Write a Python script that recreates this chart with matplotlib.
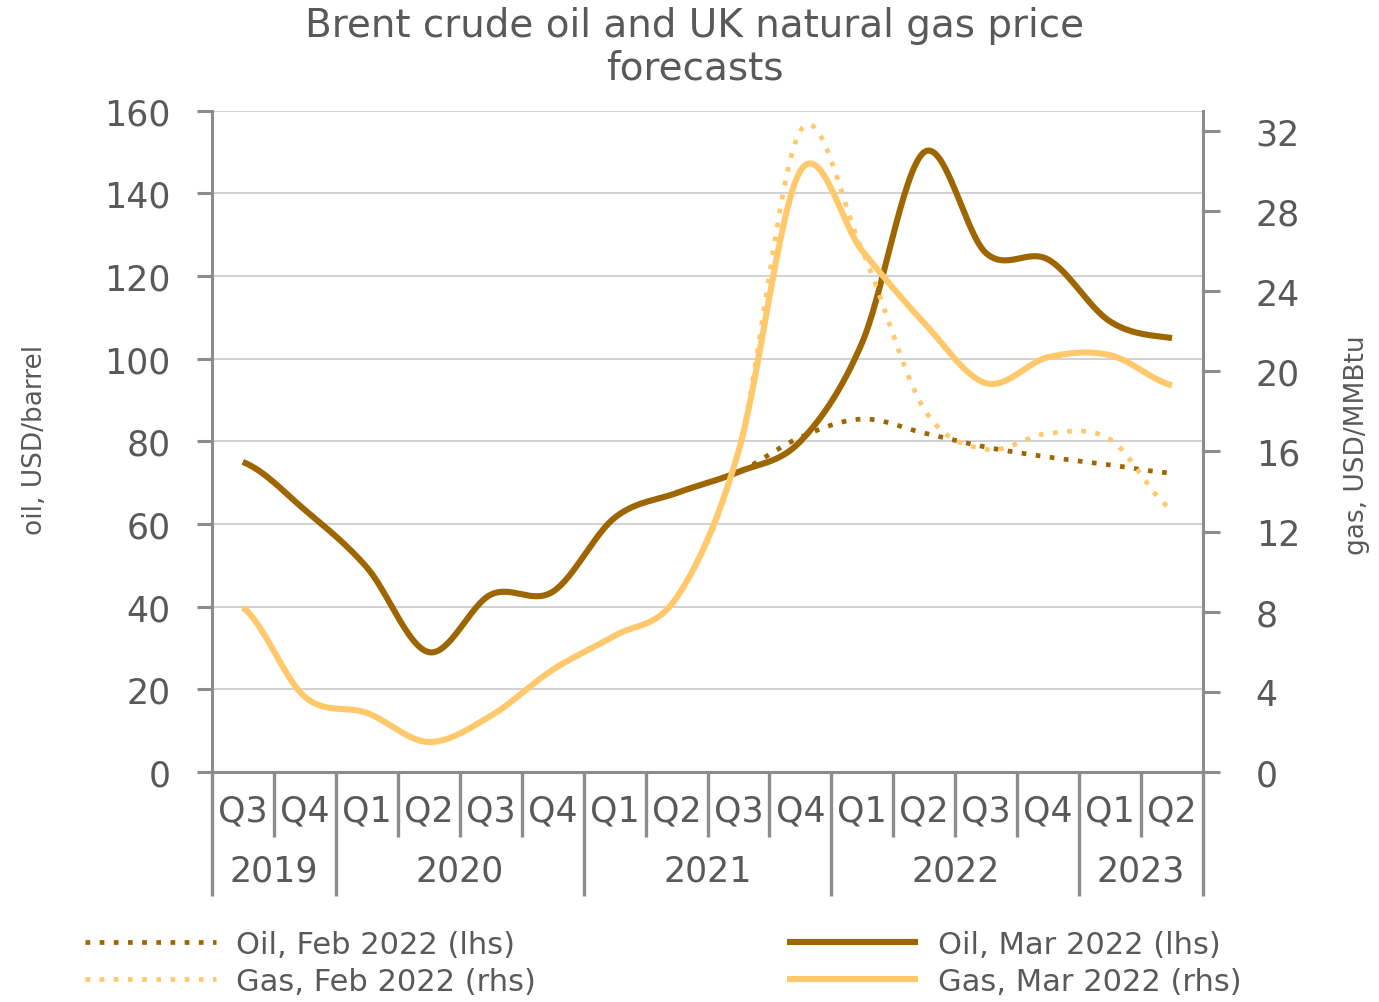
import numpy as np
import matplotlib
matplotlib.use("Agg")
import matplotlib.pyplot as plt
from matplotlib.transforms import blended_transform_factory

# ---------------- data ----------------
quarters = ["Q3", "Q4", "Q1", "Q2", "Q3", "Q4", "Q1", "Q2",
            "Q3", "Q4", "Q1", "Q2", "Q3", "Q4", "Q1", "Q2"]
years = ["2019", "2020", "2021", "2022", "2023"]
year_first_idx = [0, 2, 6, 10, 14]
year_last_idx = [1, 5, 9, 13, 15]

oil_feb = [75, 63.4, 49.5, 29, 42.9, 43.6, 61.5, 67.5, 72.6,
           81, 85.4, 82, 78.6, 76.2, 74.3, 72.3]
oil_mar = [75, 63.4, 49.5, 29, 42.9, 43.6, 61.5, 67.5, 72.6,
           80, 104, 150, 125.5, 124, 109, 105]
gas_feb = [8.2, 3.75, 2.95, 1.5, 2.8, 5.1, 6.8, 8.7, 16.0,
           32.0, 26.0, 18.1, 16.1, 16.9, 16.6, 13.1]
gas_mar = [8.2, 3.75, 2.95, 1.5, 2.8, 5.1, 6.8, 8.7, 16.0,
           30.0, 26.0, 22.4, 19.4, 20.7, 20.8, 19.3]

labels = ["Oil, Feb 2022 (lhs)", "Gas, Feb 2022 (rhs)",
          "Oil, Mar 2022 (lhs)", "Gas, Mar 2022 (rhs)"]

# ---------------- style ----------------
OIL = "#9E6600"
GAS = "#FFC96B"
TXT = "#595959"
AXC = "#8C8C8C"
GRID = "#CACACA"
W, H = 1379, 1003


def smooth(y, steps=30):
    """Catmull-Rom style smoothed path through the points (like Excel smoothed lines)."""
    y = np.asarray(y, float)
    n = len(y)
    m = np.empty(n)
    m[1:-1] = (y[2:] - y[:-2]) / 2.0
    m[0] = (y[1] - y[0]) / 2.0
    m[-1] = (y[-1] - y[-2]) / 2.0
    xs, ys = [], []
    t = np.linspace(0, 1, steps, endpoint=False)
    h00 = 2 * t**3 - 3 * t**2 + 1
    h10 = t**3 - 2 * t**2 + t
    h01 = -2 * t**3 + 3 * t**2
    h11 = t**3 - t**2
    for i in range(n - 1):
        xs.append(i + t)
        ys.append(h00 * y[i] + h10 * m[i] + h01 * y[i + 1] + h11 * m[i + 1])
    xs.append([n - 1])
    ys.append([y[-1]])
    return np.concatenate(xs), np.concatenate(ys)


fig = plt.figure(figsize=(W / 100, H / 100), dpi=100)
left, right, top, bottom = 212, 1203, 111.7, 773
ax = fig.add_axes([left / W, 1 - bottom / H, (right - left) / W, (bottom - top) / H])
ax2 = ax.twinx()

ax.set_xlim(-0.5, len(quarters) - 0.5)
ax.set_ylim(0, 160)
ax2.set_ylim(0, 33)

ax.set_yticks(range(0, 161, 20))
ax2.set_yticks(range(0, 33, 4))
ax.set_xticks([])

ax.yaxis.grid(True, color=GRID, lw=1.2)
ax.set_axisbelow(True)

for s in ["top", "right"]:
    ax.spines[s].set_visible(False)
for s in ["top", "left", "bottom"]:
    ax2.spines[s].set_visible(False)
for sp in [ax.spines["left"], ax.spines["bottom"], ax2.spines["right"]]:
    sp.set_color(AXC)
    sp.set_linewidth(2.2)

ax.tick_params(axis="y", direction="out", length=11, width=2.2, color=AXC,
               pad=19, labelsize=25, labelcolor=TXT)
ax2.tick_params(axis="y", direction="out", length=12, width=2.2, color=AXC,
                pad=26, labelsize=25, labelcolor=TXT)
ax.tick_params(axis="x", length=0)

# lines
dash = (0, (1, 2))
x1, y1 = smooth(oil_feb)
l_oil_feb, = ax.plot(x1, y1, color=OIL, lw=3.4, linestyle=dash, dash_capstyle="butt")
x2, y2 = smooth(oil_mar)
l_oil_mar, = ax.plot(x2, y2, color=OIL, lw=4.4, solid_capstyle="butt")
x3, y3 = smooth(gas_feb)
l_gas_feb, = ax2.plot(x3, y3, color=GAS, lw=3.4, linestyle=dash, dash_capstyle="butt")
x4, y4 = smooth(gas_mar)
l_gas_mar, = ax2.plot(x4, y4, color=GAS, lw=4.4, solid_capstyle="butt")

# category axis: quarters, years and separators
trans = blended_transform_factory(ax.transData, ax.transAxes)
hpx = bottom - top
q_y = -(812 - bottom) / hpx
y_y = -(872 - bottom) / hpx
short_end = -(838 - bottom) / hpx
long_end = -(897 - bottom) / hpx

for i, q in enumerate(quarters):
    ax.text(i, q_y, q, transform=trans, ha="center", va="center",
            fontsize=25, color=TXT, clip_on=False)
for yr, a, b in zip(years, year_first_idx, year_last_idx):
    ax.text((a + b) / 2, y_y, yr, transform=trans, ha="center", va="center",
            fontsize=25, color=TXT, clip_on=False)

boundaries = [a - 0.5 for a in year_first_idx] + [len(quarters) - 0.5]
for i in range(len(quarters) + 1):
    xb = i - 0.5
    end = long_end if xb in boundaries else short_end
    ax.plot([xb, xb], [0, end], transform=trans, color=AXC, lw=2.4,
            clip_on=False, solid_capstyle="butt")

# axis titles
fig.text(35 / W, 1 - 440 / H, "oil, USD/barrel", rotation=90, ha="center",
         va="center", fontsize=19, color=TXT)
fig.text(1357 / W, 1 - 445 / H, "gas, USD/MMBtu", rotation=90, ha="center",
         va="center", fontsize=19, color=TXT)

# title
fig.text(695 / W, 1 - 47 / H, "Brent crude oil and UK natural gas price\nforecasts",
         ha="center", va="center", fontsize=28, color=TXT, linespacing=1.15)

# legend (two columns placed separately)
common = dict(frameon=False, fontsize=22, handlelength=4.3, handletextpad=0.65,
              labelspacing=0.25, borderpad=0, borderaxespad=0, labelcolor=TXT,
              loc="center left")
fig.legend([l_oil_feb, l_gas_feb], labels[:2],
           bbox_to_anchor=(85 / W, 1 - 964 / H), **common)
fig.legend([l_oil_mar, l_gas_mar], labels[2:],
           bbox_to_anchor=(787 / W, 1 - 964 / H), **common)

fig.savefig("out.png", dpi=100)
